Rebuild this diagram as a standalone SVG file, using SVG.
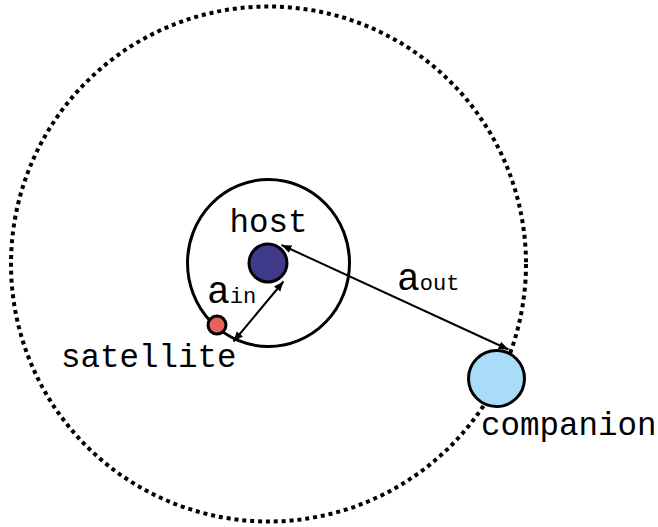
<svg xmlns="http://www.w3.org/2000/svg" width="658" height="527" viewBox="0 0 658 527">
  <defs>
    <marker id="arrowEnd" viewBox="0 0 10 10" refX="10" refY="5" markerWidth="10" markerHeight="10" markerUnits="userSpaceOnUse" orient="auto">
      <path d="M0,1 L10,5 L0,9 Z" fill="#000"/>
    </marker>
    <marker id="arrowStart" viewBox="0 0 10 10" refX="0" refY="5" markerWidth="10" markerHeight="10" markerUnits="userSpaceOnUse" orient="auto">
      <path d="M10,1 L0,5 L10,9 Z" fill="#000"/>
    </marker>
  </defs>
  <style>
    .label { font-family: "Liberation Mono", "Courier New", monospace; fill: #000; }
    .orbit { fill: none; stroke: #000; }
    .body { stroke: #000; stroke-width: 3; }
    .link { stroke: #000; stroke-width: 2; fill: none; marker-start: url(#arrowStart); marker-end: url(#arrowEnd); }
  </style>
  <rect width="658" height="527" fill="#fff"/>

  <!-- outer orbit of the companion -->
  <circle class="orbit" cx="268.5" cy="264" r="257.5" stroke-width="4" stroke-dasharray="4 3.9"/>
  <!-- inner orbit of the satellite -->
  <ellipse class="orbit" cx="268.5" cy="263" rx="81" ry="83.5" stroke-width="3"/>

  <g id="connectors">
    <line class="link" x1="281.5" y1="245" x2="508.5" y2="349.5"/>
    <line class="link" x1="283.5" y1="281.5" x2="233.5" y2="341.5"/>
  </g>

  <g id="host">
    <circle class="body" cx="268" cy="263" r="19" fill="#3f3a8c"/>
    <text class="label" x="229.5" y="232" font-size="32.5">host</text>
  </g>

  <g id="satellite">
    <circle class="body" cx="217" cy="325" r="9" fill="#e8625c"/>
    <text class="label" x="61" y="367" font-size="32.5">satellite</text>
  </g>

  <g id="companion">
    <circle class="body" cx="496.5" cy="378.5" r="28" fill="#a9dcf9"/>
    <text class="label" x="481" y="435" font-size="32.5">companion</text>
  </g>

  <g id="a-in">
    <text class="label" x="207" y="303"><tspan font-size="38">a</tspan><tspan font-size="22">in</tspan></text>
  </g>

  <g id="a-out">
    <text class="label" x="397" y="290"><tspan font-size="38">a</tspan><tspan font-size="22">out</tspan></text>
  </g>
</svg>
